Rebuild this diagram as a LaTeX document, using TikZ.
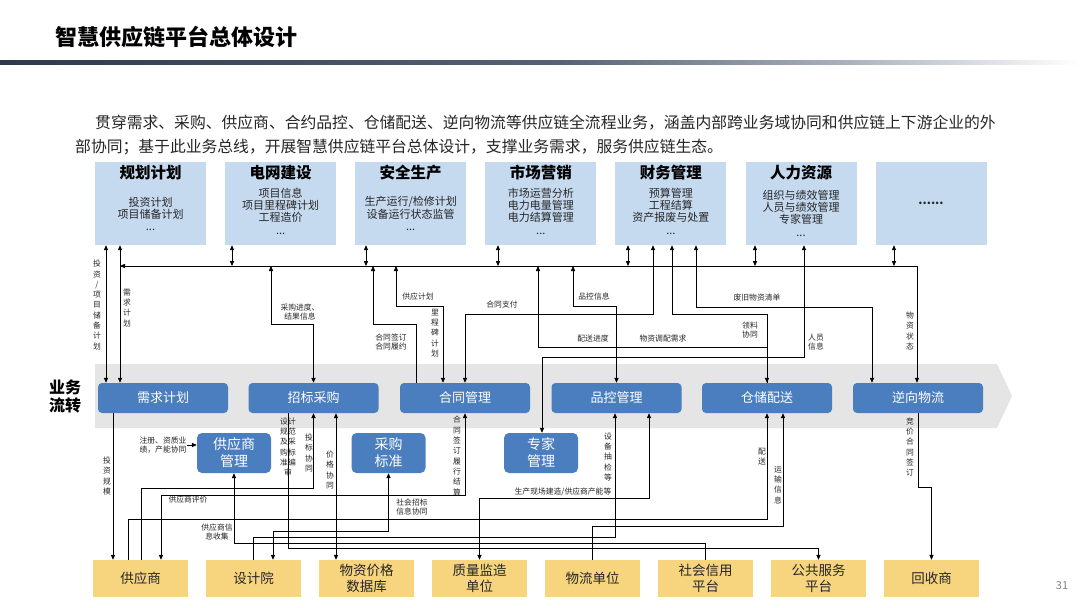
\documentclass[tikz,border=0pt]{standalone}
\usepackage{fontspec}
\setmainfont{Noto Sans CJK SC}
\usetikzlibrary{arrows.meta,calc}
\definecolor{topblue}{HTML}{C5D9EF}
\definecolor{procblue}{HTML}{4A7EBF}
\definecolor{ybox}{HTML}{F6D57E}
\definecolor{bandgray}{HTML}{E5E5E5}
\definecolor{txt}{HTML}{262626}
\definecolor{hdrA}{HTML}{2C3A4A}
\definecolor{hdrB}{HTML}{556373}
\definecolor{hdrC}{HTML}{AAB3BD}
\tikzset{
 topbox/.style={fill=topblue, draw=none, minimum width=111pt, minimum height=83pt, inner sep=0pt},
 procbox/.style={fill=procblue, rounded corners=4pt, minimum width=130pt, minimum height=30pt, text=white, font=\fontsize{13}{15}\selectfont, inner sep=0pt},
 subbox/.style={fill=procblue, rounded corners=5pt, minimum width=74pt, minimum height=40pt, text=white, font=\fontsize{14}{17}\selectfont, align=center, inner sep=0pt},
 botbox/.style={fill=ybox, minimum width=95pt, minimum height=37pt, text=txt, font=\fontsize{13.5}{16}\selectfont, align=center, inner sep=0pt},
 ttl/.style={font=\bfseries\fontsize{15.5}{18}\selectfont, text=black, inner sep=0pt},
 itemtxt/.style={font=\fontsize{11}{12.3}\selectfont, text=txt, align=center, inner sep=0pt},
 lab/.style={font=\fontsize{7.8}{9.5}\selectfont, text=txt, align=center, inner sep=0pt},
 vlab/.style={font=\fontsize{7.8}{10.3}\selectfont, text=txt, align=center, inner sep=0pt},
 conn/.style={draw=black, line width=0.8pt},
 onearr/.style={conn, -{Triangle[length=5pt,width=4.2pt]}},
 twoarr/.style={conn, {Triangle[length=5pt,width=4.2pt]}-{Triangle[length=5pt,width=4.2pt]}},
 backarr/.style={conn, {Triangle[length=5pt,width=4.2pt]}-},
}
\begin{document}
\begin{tikzpicture}[x=1pt,y=-1pt]
\useasboundingbox (0,0) rectangle (1080,608);
\fill[white] (0,0) rectangle (1080,608);

% header
\node[anchor=west, font=\bfseries\fontsize{22}{25}\selectfont, text=black, inner sep=0pt] (title) at (55,37) {智慧供应链平台总体设计};
\shade[left color=hdrA, right color=hdrB] (0,60) rectangle (560,64.5);
\shade[left color=hdrB, right color=hdrC] (560,60) rectangle (850,64.5);
\shade[left color=hdrC, right color=white] (850,60) rectangle (1080,64.5);

\node[anchor=west, font=\fontsize{15.8}{18}\selectfont, text=txt, inner sep=0pt] (para1) at (95,123) {贯穿需求、采购、供应商、合约品控、仓储配送、逆向物流等供应链全流程业务，涵盖内部跨业务域协同和供应链上下游企业的外};
\node[anchor=west, font=\fontsize{15.8}{18}\selectfont, text=txt, inner sep=0pt] (para2) at (75,147) {部协同；基于此业务总线，开展智慧供应链平台总体设计，支撑业务需求，服务供应链生态。};

% top boxes
\node[topbox] (tb1) at (150.5,203.5) {};
\node[topbox] (tb2) at (280.6,203.5) {};
\node[topbox] (tb3) at (410.7,203.5) {};
\node[topbox] (tb4) at (540.8,203.5) {};
\node[topbox] (tb5) at (670.9,203.5) {};
\node[topbox] (tb6) at (801,203.5) {};
\node[topbox] (tb7) at (931,203.5) {};
\node[ttl] (tt1) at (150.5,173) {规划计划};
\node[ttl] (tt2) at (280.6,173) {电网建设};
\node[ttl] (tt3) at (410.7,173) {安全生产};
\node[ttl] (tt4) at (540.8,173) {市场营销};
\node[ttl] (tt5) at (670.9,173) {财务管理};
\node[ttl] (tt6) at (801,173) {人力资源};
\node[itemtxt] (it1) at (150.5,214) {投资计划\\项目储备计划\\...};
\node[itemtxt] (it2) at (280.6,211) {项目信息\\项目里程碑计划\\工程造价\\...};
\node[itemtxt] (it3) at (410.7,213.5) {生产运行/检修计划\\设备运行状态监管\\...};
\node[itemtxt] (it4) at (540.8,211) {市场运营分析\\电力电量管理\\电力结算管理\\...};
\node[itemtxt] (it5) at (670.9,211) {预算管理\\工程结算\\资产报废与处置\\...};
\node[itemtxt] (it6) at (801,213) {组织与绩效管理\\人员与绩效管理\\专家管理\\...};
\node[font=\bfseries\fontsize{12}{14}\selectfont, text=txt, inner sep=0pt] (it7) at (931,203) {......};

% process band
\fill[bandgray] (95,364) -- (997,364) -- (1012,396) -- (997,428) -- (95,428) -- cycle;
\node[font=\bfseries\fontsize{16}{18}\selectfont, text=black, align=center, inner sep=0pt] (flow) at (65,396) {业务\\流转};
\node[procbox] (p1) at (163,398) {需求计划};
\node[procbox] (p2) at (313.5,398) {招标采购};
\node[procbox] (p3) at (465,398) {合同管理};
\node[procbox] (p4) at (616.5,398) {品控管理};
\node[procbox] (p5) at (767,398) {仓储配送};
\node[procbox] (p6) at (918,398) {逆向物流};

% sub boxes
\node[subbox] (s1) at (234,453) {供应商\\管理};
\node[subbox] (s2) at (388.5,453) {采购\\标准};
\node[subbox] (s3) at (541,453) {专家\\管理};

% bottom boxes
\node[botbox] (b1) at (140.5,578.5) {供应商};
\node[botbox] (b2) at (253.5,578.5) {设计院};
\node[botbox] (b3) at (366.5,578.5) {物资价格\\数据库};
\node[botbox] (b4) at (479.5,578.5) {质量监造\\单位};
\node[botbox] (b5) at (592.5,578.5) {物流单位};
\node[botbox] (b6) at (705.5,578.5) {社会信用\\平台};
\node[botbox] (b7) at (818.5,578.5) {公共服务\\平台};
\node[botbox] (b8) at (931.5,578.5) {回收商};
\node[font=\fontsize{11}{13}\selectfont, text=gray, inner sep=0pt] (pg) at (1062,586) {31};

% ---- upper connectors
\coordinate (busL) at (120,266);
\coordinate (busR) at (917,266);
\draw[twoarr] (tb1.south -| 106,0) -- (p1.north -| 106,0);
\draw[twoarr] (tb1.south -| 120,0) -- (p1.north -| 120,0);
\draw[onearr] (busR) -- (busL);
\draw[onearr] (busR) -- (p6.north -| busR);
\draw[twoarr] (tb2.south -| 232,0) -- (busL -| 232,0);
\draw[twoarr] (tb3.south -| 366,0) -- (busL -| 366,0);
\draw[twoarr] (tb4.south -| 498,0) -- (busL -| 498,0);
\draw[twoarr] (tb5.south -| 628,0) -- (busL -| 628,0);
\draw[twoarr] (tb6.south -| 755,0) -- (busL -| 755,0);
\draw[twoarr] (tb7.south -| 894,0) -- (busL -| 894,0);
\draw[twoarr] (p2.north) |- (271,324) -- (busL -| 271,0);
\draw[onearr] (p3.north -| 416,0) |- (373,324) -- (busL -| 373,0);
\draw[twoarr] (p3.north -| 443,0) |- (396,306) -- (busL -| 396,0);
\draw[twoarr] (p3.north) |- (653,314) -- (tb5.south -| 653,0);
\draw[twoarr] (p4.north) |- (573,306) -- (busL -| 573,0);
\draw[twoarr] (tb5.south -| 672,0) |- (767,314) -- (p5.north);
\draw[onearr] (p5.north) -- (767,347) -- (538,347) -- (busL -| 538,0);
\draw[twoarr] (tb5.south -| 696,0) |- (872,307) -- (p6.north -| 872,0);
\draw[twoarr] (tb6.south -| 804,0) |- (542,357) -- (s3.north -| 542,0);

% ---- lower connectors
\draw[onearr] (p1.south -| 113,0) -- (b1.north -| 113,0);
\draw[backarr] (p5.south) |- (128,519) -- (b1.north -| 128,0);
\draw[backarr] (p2.south) |- (141,488) -- (b1.north -| 141,0);
\draw[twoarr] (p3.south) |- (161,495) -- (b1.north -| 161,0);
\draw[twoarr] (p2.south -| 336,0) -- (b3.north -| 336,0);
\draw[onearr] (p2.south -| 288,0) |- (818.5,548) -- (b7.north);
\draw[onearr] (b6.north) |- (234,543) -- (s1.south);
\draw[twoarr] (b2.north -| 273,0) |- (388.5,531) -- (s2.south);
\draw[onearr] (b2.north) |- (615,537) -- (p4.south -| 615,0);
\draw[twoarr] (p4.south -| 649,0) |- (479.5,498) -- (b4.north);
\draw[onearr] (b5.north) |- (783,526) -- (p5.south -| 783,0);
\draw[onearr] (p6.south) -- (918,487) -| (b8.north);

% ---- labels
\node[vlab] (l1) at (97,305) {投\\资\\/\\项\\目\\储\\备\\计\\划};
\node[vlab] (l2) at (127,308) {需\\求\\计\\划};
\node[lab] (l3) at (300,312) {采购进度、\\结果信息};
\node[lab] (l4) at (391,342) {合同签订\\合同履约};
\node[lab] (l5) at (418,297) {供应计划};
\node[vlab] (l6) at (435,333) {里\\程\\碑\\计\\划};
\node[lab] (l7) at (502,305) {合同支付};
\node[lab] (l8) at (594,297) {品控信息};
\node[lab] (l9) at (593,339) {配送进度};
\node[lab] (l10) at (663,339) {物资调配需求};
\node[lab] (l11) at (750,330) {领料\\协同};
\node[lab] (l12) at (757,298) {废旧物资清单};
\node[lab] (l13) at (816,342) {人员\\信息};
\node[vlab] (l14) at (910,331) {物\\资\\状\\态};
\node[vlab] (l15) at (107,476) {投\\资\\规\\模};
\node[lab] (l16) at (163,445) {注册、资质业\\绩，产能协同};
\draw[onearr] (l16.east |- 0,445) -- (s1.west |- 0,445);
\node[vlab] (l17) at (288,447) {设计\\规范\\及采\\购标\\准编\\审};
\node[vlab] (l18) at (309,453) {投\\标\\协\\同};
\node[vlab] (l19) at (330,470) {价\\格\\协\\同};
\node[vlab] (l20) at (457,456) {合\\同\\签\\订\\履\\行\\结\\算};
\node[vlab] (l21) at (608,457) {设\\备\\抽\\检\\等};
\node[vlab] (l22) at (762,457) {配\\送};
\node[vlab] (l23) at (778,485) {运\\输\\信\\息};
\node[vlab] (l24) at (910,447) {竞\\价\\合\\同\\签\\订};
\node[lab] (l25) at (188,500) {供应商评价};
\node[lab] (l26) at (217,532) {供应商信\\息收集};
\node[lab] (l27) at (412,507) {社会招标\\信息协同};
\node[lab] (l28) at (563,492) {生产现场建造/供应商产能等};
\end{tikzpicture}
\end{document}
